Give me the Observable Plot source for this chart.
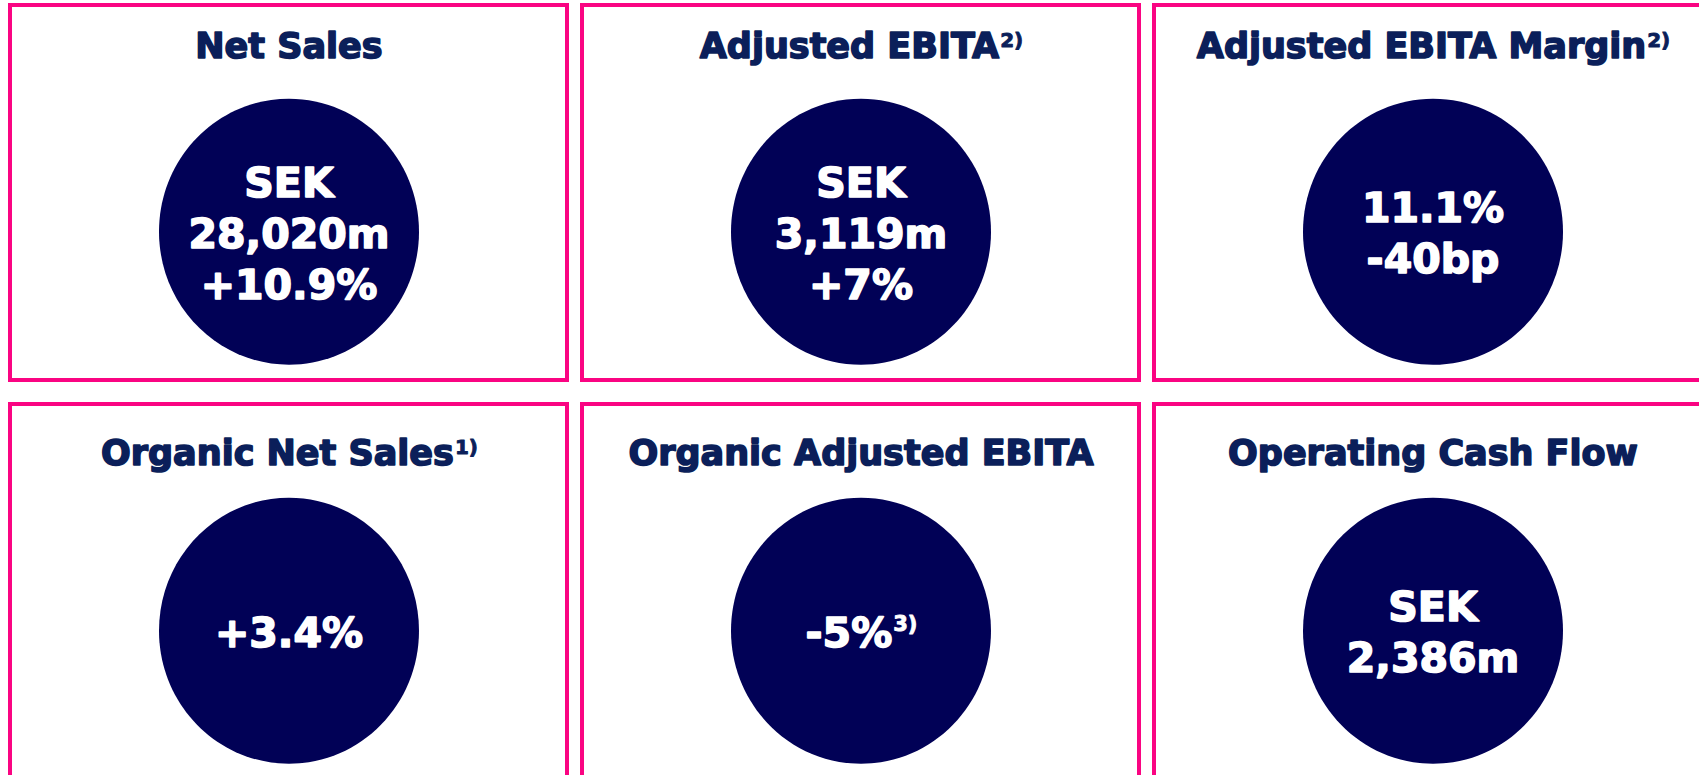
<!DOCTYPE html>
<html>
<head>
<meta charset="utf-8">
<script src="https://cdn.jsdelivr.net/npm/d3@7"></script>
<script src="https://cdn.jsdelivr.net/npm/@observablehq/plot@0.6"></script>
<style>
  html, body { margin: 0; padding: 0; background: #fff; overflow: hidden; }
  #chart svg { display: block; }
</style>
</head>
<body>
<div id="chart"></div>
<script>
// ---- data ----
const titles = ["Net Sales", "Adjusted EBITA", "Adjusted EBITA Margin", "Organic Net Sales", "Organic Adjusted EBITA", "Operating Cash Flow"];
const titleNotes = ["", "2)", "2)", "1)", "", ""];
const valueLines = [
  ["SEK", "28,020m", "+10.9%"],
  ["SEK", "3,119m", "+7%"],
  ["11.1%", "-40bp"],
  ["+3.4%"],
  ["-5%"],
  ["SEK", "2,386m"]
];
const valueNotes = ["", "", "", "", "3)", ""];

// ---- layout / style ----
const W = 1699, H = 775;
const FONT = "DejaVu Sans";
const PINK = "#fa0482", NAVY = "#010156", TITLE = "#0b1f5a";
const titleSize = 35, titleNoteSize = 20, valueSize = 41, valueNoteSize = 21;
const titleDy = [-146.3, -138.5];
const circleDy = 38.7, valueDy = 38.5;

const panels = titles.map((t, i) => ({
  col: i % 3, row: Math.floor(i / 3),
  title: t, note: titleNotes[i],
  value: valueLines[i].join("\n"), vnote: valueNotes[i]
}));

const ctx = document.createElement("canvas").getContext("2d");
function textWidth(s, size) { ctx.font = `bold ${size}px "${FONT}"`; return ctx.measureText(s).width; }

// slightly taller-than-wide disc, as in the reference
const ellipse = {
  draw(context, size) {
    const r = Math.sqrt(size / Math.PI), rx = r * 130 / 133, ry = r, k = 0.5522847;
    context.moveTo(rx, 0);
    context.bezierCurveTo(rx, ry * k, rx * k, ry, 0, ry);
    context.bezierCurveTo(-rx * k, ry, -rx, ry * k, -rx, 0);
    context.bezierCurveTo(-rx, -ry * k, -rx * k, -ry, 0, -ry);
    context.bezierCurveTo(rx * k, -ry, rx, -ry * k, rx, 0);
    context.closePath();
  }
};

const textBase = {x: "col", y: "row", fontFamily: FONT, fontWeight: "bold"};

const marks = [
  Plot.cell(panels, {x: "col", y: "row", fill: "none", stroke: PINK, strokeWidth: 4, inset: 2}),
  Plot.dot(panels, {x: "col", y: "row", r: 133, symbol: ellipse, fill: NAVY, dy: circleDy})
];

for (const p of panels) {
  const wNote = p.note ? textWidth(p.note, titleNoteSize) : 0;
  const wMain = textWidth(p.title, titleSize);
  const dyT = titleDy[p.row];
  marks.push(Plot.text([p], {...textBase, text: "title", dx: -wNote / 2, dy: dyT,
    fontSize: titleSize, fill: TITLE, stroke: TITLE, strokeWidth: 1.6}));
  if (p.note) marks.push(Plot.text([p], {...textBase, text: "note", textAnchor: "start",
    dx: wMain / 2 - wNote / 2 + 1, dy: dyT - 6.2, fontSize: titleNoteSize, fill: TITLE, stroke: TITLE, strokeWidth: 0.9}));

  const vw = p.vnote ? textWidth(p.vnote, valueNoteSize) : 0;
  const vMain = textWidth(p.value, valueSize);
  marks.push(Plot.text([p], {...textBase, text: "value", dx: -vw / 2, dy: valueDy,
    fontSize: valueSize, lineHeight: 51 / 41, fill: "white", stroke: "white", strokeWidth: 1.6}));
  if (p.vnote) marks.push(Plot.text([p], {...textBase, text: "vnote", textAnchor: "start",
    dx: vMain / 2 - vw / 2 + 1, dy: valueDy - 6.6, fontSize: valueNoteSize, fill: "white", stroke: "white", strokeWidth: 0.9}));
}

const chart = Plot.plot({
  width: W, height: H, margin: 0,
  x: {type: "band", domain: [0, 1, 2], range: [8, 1713], paddingInner: 11 / 572, paddingOuter: 0, axis: null},
  y: {type: "band", domain: [0, 1], range: [3, 781], paddingInner: 20 / 399, paddingOuter: 0, axis: null},
  style: {fontFamily: FONT, background: "white"},
  marks
});
document.getElementById("chart").append(chart);
</script>
</body>
</html>
